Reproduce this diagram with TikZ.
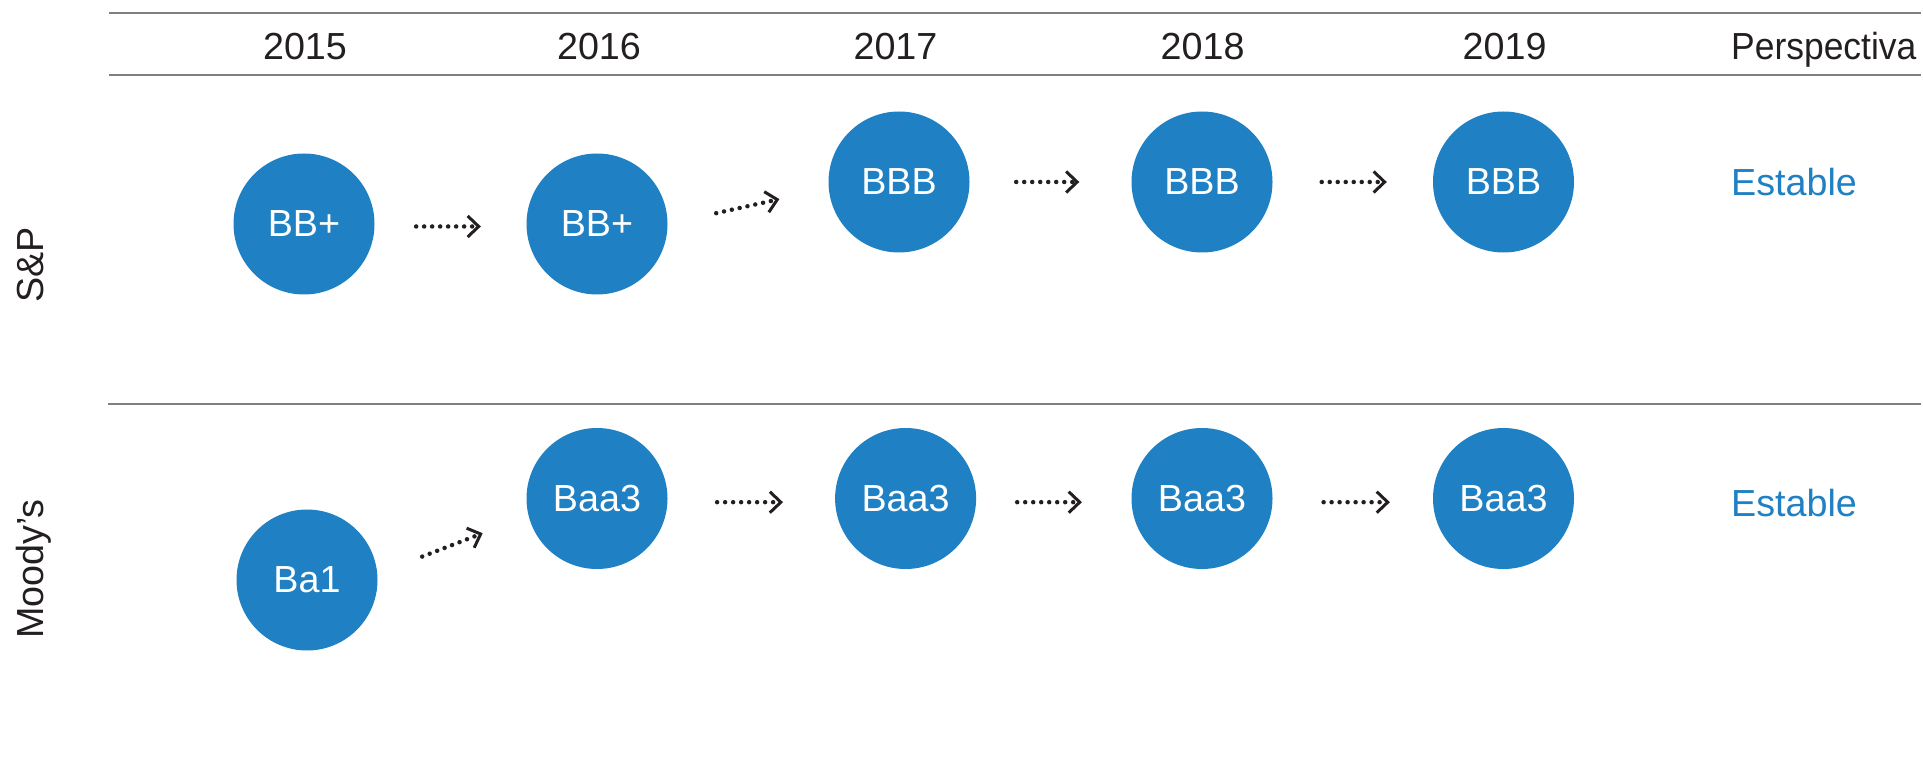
\documentclass[tikz,border=0pt]{standalone}
\usepackage{fontspec}
\setmainfont{Liberation Sans}
\newfontfamily\narrowfam[FakeStretch=0.94]{Liberation Sans}
\usetikzlibrary{arrows.meta}
\definecolor{rblue}{HTML}{1F80C3}
\definecolor{rtext}{HTML}{231F20}
\definecolor{rline}{HTML}{7F7F7F}
\begin{document}
\begin{tikzpicture}[x=1pt,y=-1pt,
  lbl/.style={font=\fontsize{37.7pt}{45pt}\selectfont, text=rtext, inner sep=0pt},
  rating/.style={circle, fill=rblue, minimum size=141pt, inner sep=0pt, text=white, font=\fontsize{37.7pt}{45pt}\selectfont},
  outlook/.style={lbl, text=rblue, anchor=base west},
  rulebar/.style={draw=rline, line width=2pt},
  flow/.style={draw=rtext, line width=4.5pt, line cap=round, dash pattern=on 0pt off 8pt,
    -{Straight Barb[length=11pt,width=21pt,line width=3pt]}},
]
\useasboundingbox (0,0) rectangle (1923,767);
% rules
\draw[rulebar] (109,13.3) -- (1921,13.3);
\draw[rulebar] (109,75) -- (1921,75);
\draw[rulebar] (108,404) -- (1921,404);
% header
\node[lbl, anchor=base] (y15) at (305,60) {2015};
\node[lbl, anchor=base] (y16) at (599,60) {2016};
\node[lbl, anchor=base] (y17) at (895.5,60) {2017};
\node[lbl, anchor=base] (y18) at (1202.6,60) {2018};
\node[lbl, anchor=base] (y19) at (1504.6,60) {2019};
\node[lbl, anchor=base west, font=\narrowfam\fontsize{37.7pt}{45pt}\selectfont] (ypv) at (1731,60) {Perspectiva};
% row labels
\node[lbl, anchor=base, rotate=90] (sp) at (43.3,265) {S\&P};
\node[lbl, anchor=base, rotate=90] (md) at (43.3,569) {Moody’s};
% S&P
\node[rating] (s15) at (304,224) {BB+};
\node[rating] (s16) at (597,224) {BB+};
\node[rating] (s17) at (899,182) {BBB};
\node[rating] (s18) at (1202,182) {BBB};
\node[rating] (s19) at (1503.5,182) {BBB};
\node[outlook] (so) at (1731,196) {Estable};
% Moody's
\node[rating] (m15) at (307,580) {Ba1};
\node[rating] (m16) at (597,498.5) {Baa3};
\node[rating] (m17) at (905.6,498.5) {Baa3};
\node[rating] (m18) at (1202,498.5) {Baa3};
\node[rating] (m19) at (1503.5,498.5) {Baa3};
\node[outlook] (mo) at (1731,516.7) {Estable};
% connectors S&P
\draw[flow, shorten <=41.5pt, shorten >=45.5pt] (s15.-2) -- (s16.182);
\draw[flow, shorten <=49.7pt, shorten >=50.4pt] (s16.east) -- (s17.185);
\draw[flow, shorten <=46.5pt, shorten >=52pt] (s17.east) -- (s18.west);
\draw[flow, shorten <=49pt, shorten >=46pt] (s18.east) -- (s19.west);
% connectors Moody's
\draw[flow, shorten <=48pt, shorten >=49pt] (m15.5) -- (m16.194);
\draw[flow, shorten <=49.5pt, shorten >=52pt] (m16.-3) -- (m17.183);
\draw[flow, shorten <=41pt, shorten >=49.5pt] (m17.-3) -- (m18.183);
\draw[flow, shorten <=51pt, shorten >=43pt] (m18.-3) -- (m19.183);
\end{tikzpicture}
\end{document}
